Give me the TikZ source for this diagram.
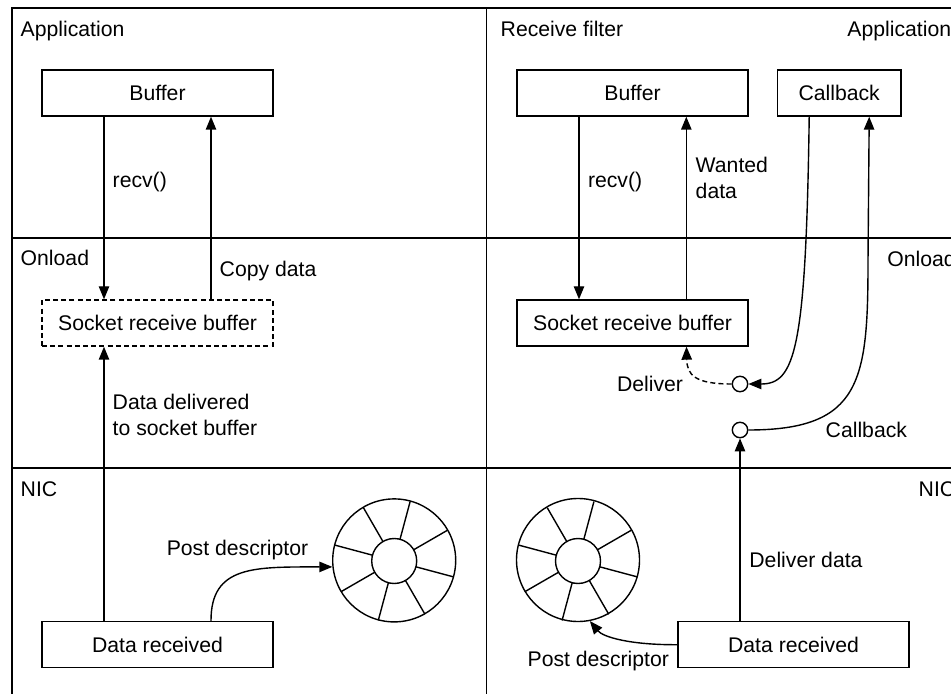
\documentclass[tikz,border=0pt]{standalone}
\usepackage{fontspec}
\setmainfont{Liberation Sans}
\usetikzlibrary{arrows.meta}
\begin{document}
\begin{tikzpicture}[x=0.5pt,y=-0.5pt,line width=0.7pt,
  every node/.style={font=\fontsize{10.6}{13}\selectfont},
  box/.style={draw,minimum width=115.5pt,minimum height=23pt,inner sep=0pt,text height=7.5pt,text depth=0pt},
  lbl/.style={anchor=west,inner sep=0pt,text height=7.5pt,text depth=0pt},
  mlbl/.style={anchor=north west,inner sep=0pt,align=left},
  dot/.style={circle,draw,fill=white,minimum size=7.7pt,inner sep=0pt},
  ringn/.style={circle,draw,minimum size=61.5pt,inner sep=0pt},
  hubn/.style={circle,draw,minimum size=22.5pt,inner sep=0pt},
  arr/.style={-{Triangle[length=6.5pt,width=5.2pt]}},
  frame/.style={line width=0.75pt}]
\useasboundingbox (0,0) rectangle (951,694);
\clip (0,0) rectangle (951,694);
% frame
\draw[frame] (12,694) -- (12,8) -- (960,8);
\draw[frame] (12,238) -- (960,238);
\draw[frame] (12,468) -- (960,468);
\draw[frame] (486.7,8) -- (486.7,694);
% layer labels
\node[lbl] (appL) at (20,29.5) {Application};
\node[lbl] (onlL) at (20,258) {Onload};
\node[lbl] (nicL) at (20,489) {NIC};
\node[lbl] (rf) at (500,29.5) {Receive filter};
\node[lbl] (appR) at (846.7,29.5) {Application};
\node[lbl] (onlR) at (886.7,259) {Onload};
\node[lbl] (nicR) at (918,489) {NIC};
% left panel
\node[box] (buf1) at (157.5,93) {Buffer};
\node[box,dash pattern=on 2.5pt off 1.6pt] (sr1) at (157.5,323) {Socket receive buffer};
\node[box] (dr1) at (157.5,644.7) {Data received};
\node[ringn] (ring1) at (394.2,560.4) {};
\node[hubn] (hub1) at (394.2,561) {};
\foreach \a in {30,75,...,345}
  \draw ([shift={(\a:11.25pt)}]hub1.center) -- ([shift={(\a:30.75pt)}]hub1.center);
\draw[arr] ([xshift=-26.75pt]buf1.south) -- ([xshift=-26.75pt]sr1.north);
\draw[arr] ([xshift=26.75pt]sr1.north) -- ([xshift=26.75pt]buf1.south);
\draw[arr] ([xshift=-26.75pt]dr1.north) -- ([xshift=-26.75pt]sr1.south);
\draw[arr] ([xshift=26.75pt]dr1.north) .. controls (210.7,565) and (255,567) .. (ring1.186);
\node[lbl] (l1) at (112,180) {recv()};
\node[lbl] (l2) at (219,269) {Copy data};
\node[mlbl] (l3) at (112,393) {Data delivered\\to socket buffer};
\node[lbl,anchor=center] (l4) at (237.5,548.3) {Post descriptor};
% right panel
\node[box] (buf2) at (632.5,93) {Buffer};
\node[box,minimum width=61.85pt] (cb) at (839.2,93) {Callback};
\node[box] (sr2) at (632.5,323) {Socket receive buffer};
\node[box] (dr2) at (793.5,644.7) {Data received};
\node[dot] (c1) at (740,384) {};
\node[dot] (c2) at (740,430) {};
\node[ringn] (ring2) at (578,560) {};
\node[hubn] (hub2) at (578,561) {};
\foreach \a in {30,75,...,345}
  \draw ([shift={(\a:11.25pt)}]hub2.center) -- ([shift={(\a:30.75pt)}]hub2.center);
\draw[arr] ([xshift=-26.75pt]buf2.south) -- ([xshift=-26.75pt]sr2.north);
\draw[arr] ([xshift=26.9pt]sr2.north) -- ([xshift=26.9pt]buf2.south);
\draw[arr] ([xshift=-15pt]cb.south) .. controls (806,350) and (795,384) .. (c1.east);
\draw[arr] (c2.east) .. controls (862,430) and (868,380) .. (868,260) -- ([xshift=15pt]cb.south);
\draw[arr,dash pattern=on 2.5pt off 1.6pt] (c1.west) .. controls (695,384) and (687,375) .. ([xshift=27pt]sr2.south);
\draw[arr] ([xshift=-26.75pt]dr2.north) -- (c2.south);
\draw[arr] (dr2.west) .. controls (630,645) and (603,637) .. (ring2.281);
\node[lbl] (r1) at (587.3,180) {recv()};
\node[mlbl] (r2) at (695,156.5) {Wanted\\data};
\node[lbl,anchor=center] (r3) at (650,384) {Deliver};
\node[lbl] (r4) at (825,430) {Callback};
\node[lbl] (r5) at (748.7,560) {Deliver data};
\node[lbl,anchor=center] (r6) at (598.3,659.3) {Post descriptor};
\end{tikzpicture}
\end{document}
